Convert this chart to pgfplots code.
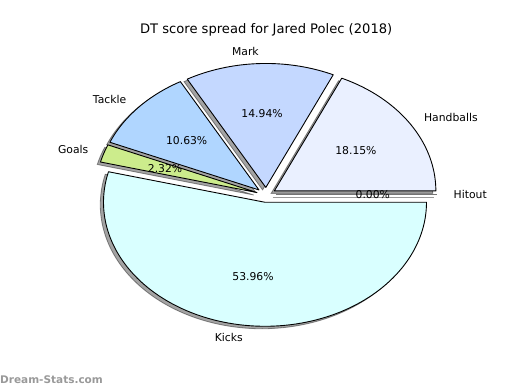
\documentclass[border=0pt]{standalone}
\usepackage{pgfplots}
\pgfplotsset{compat=1.18}
\usepackage{pgfplotstable}
\usepackage{fontspec}
\setmainfont{DejaVu Sans}
\newfontfamily\wmfont{DejaVu Sans}
\definecolor{cHand}{HTML}{EAF0FF}
\definecolor{cMark}{HTML}{C4D8FF}
\definecolor{cTack}{HTML}{B0D6FF}
\definecolor{cGoal}{HTML}{CCEC8C}
\definecolor{cKick}{HTML}{D9FFFF}
\definecolor{cHit}{HTML}{FFFFFF}
\definecolor{wmgray}{HTML}{999999}

\pgfplotstableread{
label value color
Handballs 18.15 cHand
Mark 14.94 cMark
Tackle 10.63 cTack
Goals 2.32 cGoal
Kicks 53.96 cKick
Hitout 0.00 cHit
}\piedata

\def\explode{0.06}
\newcommand\lblfont{\fontsize{10.8bp}{13bp}\selectfont}
\newcommand\ttlfont{\fontsize{13.1bp}{16bp}\selectfont}

\begin{document}
\begin{tikzpicture}
\begin{axis}[width=520bp,height=390bp,scale only axis,hide axis,clip=false,
  xmin=-1.6483,xmax=1.5715,ymin=-1.5734,ymax=1.5718]
\path (rel axis cs:0,0) rectangle (rel axis cs:1,1);
\pgfplotstablegetrowsof{\piedata}
\pgfmathtruncatemacro\nrows{\pgfplotsretval-1}
% ---- shadows
\def\cum{0}
\pgfplotsforeachungrouped \i in {0,...,\nrows}{%
  \pgfplotstablegetelem{\i}{value}\of\piedata \let\val\pgfplotsretval
  \pgfmathsetmacro\sa{3.6*\cum}%
  \pgfmathsetmacro\cum{\cum+\val}%
  \pgfmathsetmacro\ea{3.6*\cum}%
  \pgfmathsetmacro\ma{(\sa+\ea)/2}%
  \pgfmathsetmacro\ex{\explode*cos(\ma)-0.02}%
  \pgfmathsetmacro\ey{\explode*sin(\ma)-0.02}%
  \pgfmathsetmacro\rx{\ex+cos(\ma)}%
  \pgfmathsetmacro\ry{\ey+sin(\ma)}%
  \ifdim\val pt=0pt
    \edef\doit{\noexpand\addplot[draw=black, draw opacity=0.4, line width=0.9bp] coordinates {(\ex,\ey) (\rx,\ry)};}%
  \else
    \edef\doit{\noexpand\addplot[draw=black, draw opacity=0.4, fill=black, fill opacity=0.36, line width=0.8bp, domain=\sa:\ea, samples=120, variable=\noexpand\t] ({\ex+cos(\noexpand\t)},{\ey+sin(\noexpand\t)}) -- (axis cs:\ex,\ey) -- cycle;}%
  \fi
  \doit
}
% ---- wedges
\def\cum{0}
\pgfplotsforeachungrouped \i in {0,...,\nrows}{%
  \pgfplotstablegetelem{\i}{value}\of\piedata \let\val\pgfplotsretval
  \pgfplotstablegetelem{\i}{color}\of\piedata \let\col\pgfplotsretval
  \pgfmathsetmacro\sa{3.6*\cum}%
  \pgfmathsetmacro\cum{\cum+\val}%
  \pgfmathsetmacro\ea{3.6*\cum}%
  \pgfmathsetmacro\ma{(\sa+\ea)/2}%
  \pgfmathsetmacro\ex{\explode*cos(\ma)}%
  \pgfmathsetmacro\ey{\explode*sin(\ma)}%
  \pgfmathsetmacro\rx{\ex+cos(\ma)}%
  \pgfmathsetmacro\ry{\ey+sin(\ma)}%
  \ifdim\val pt=0pt
    \edef\doit{\noexpand\addplot[draw=black!55, line width=0.9bp] coordinates {(\ex,\ey) (\rx,\ry)};}%
  \else
    \edef\doit{\noexpand\addplot[draw=black, fill=\col, line width=0.9bp, line join=round, domain=\sa:\ea, samples=120, variable=\noexpand\t] ({\ex+cos(\noexpand\t)},{\ey+sin(\noexpand\t)}) -- (axis cs:\ex,\ey) -- cycle;}%
  \fi
  \doit
}
% ---- labels
\def\cum{0}
\pgfplotsforeachungrouped \i in {0,...,\nrows}{%
  \pgfplotstablegetelem{\i}{value}\of\piedata \let\val\pgfplotsretval
  \pgfplotstablegetelem{\i}{label}\of\piedata \let\lab\pgfplotsretval
  \pgfmathsetmacro\sa{3.6*\cum}%
  \pgfmathsetmacro\cum{\cum+\val}%
  \pgfmathsetmacro\ea{3.6*\cum}%
  \pgfmathsetmacro\ma{(\sa+\ea)/2}%
  \pgfmathsetmacro\lx{(\explode+1.1)*cos(\ma)}%
  \pgfmathsetmacro\ly{(\explode+1.1)*sin(\ma)}%
  \pgfmathsetmacro\px{(\explode+0.6)*cos(\ma)}%
  \pgfmathsetmacro\py{(\explode+0.6)*sin(\ma)}%
  \pgfmathparse{cos(\ma)>0?"west":"east"}\let\anch\pgfmathresult
  \edef\doit{\noexpand\node[anchor=\anch, inner sep=0pt, font=\noexpand\lblfont] at (axis cs:\lx,\ly) {\lab};
    \noexpand\node[anchor=center, inner sep=0pt, font=\noexpand\lblfont] at (axis cs:\px,\py) {\noexpand\pgfmathprintnumber[fixed,fixed zerofill,precision=2,assume math mode=true]{\val}\%};}%
  \doit
}
\node[font=\ttlfont, anchor=center] at (axis cs:0.0,1.3298) {DT score spread for Jared Polec (2018)};
\node[font=\wmfont\bfseries\fontsize{10.5bp}{12bp}\selectfont, text=wmgray, anchor=west, inner sep=0pt] at (axis cs:-1.6483,-1.4927) {Dream-Stats.com};
\end{axis}
\end{tikzpicture}
\end{document}
